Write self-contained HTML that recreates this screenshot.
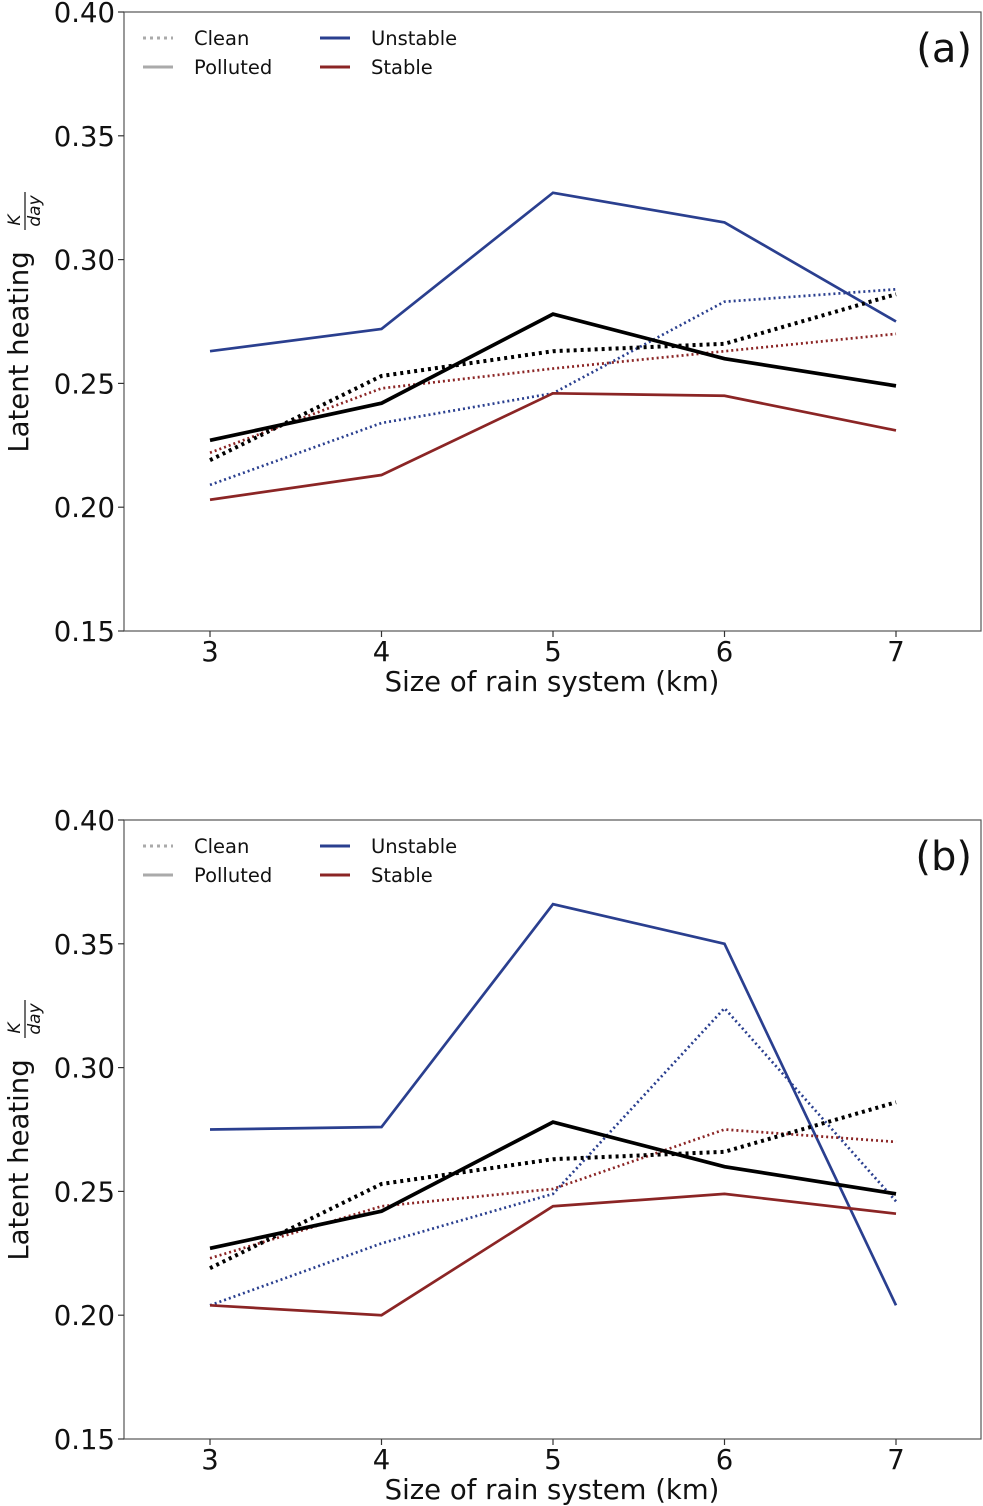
<!DOCTYPE html>
<html><head><meta charset="utf-8"><style>
body{margin:0;background:#fff;}
svg{display:block;font-family:"DejaVu Sans","Liberation Sans",sans-serif;}
</style></head><body>
<svg id="chart" width="983" height="1506"></svg>
<script>
const categories=[3,4,5,6,7];
const yTicks=[0.15,0.20,0.25,0.30,0.35,0.40];
const tickLabels=["0.15","0.20","0.25","0.30","0.35","0.40"];
const aUnstablePolluted=[0.263,0.272,0.327,0.315,0.275];
const aUnstableClean=[0.209,0.234,0.246,0.283,0.288];
const aAllPolluted=[0.227,0.242,0.278,0.260,0.249];
const aAllClean=[0.219,0.253,0.263,0.266,0.286];
const aStableClean=[0.222,0.248,0.256,0.263,0.270];
const aStablePolluted=[0.203,0.213,0.246,0.245,0.231];
const bUnstablePolluted=[0.275,0.276,0.366,0.350,0.204];
const bUnstableClean=[0.204,0.229,0.249,0.324,0.246];
const bAllPolluted=[0.227,0.242,0.278,0.260,0.249];
const bAllClean=[0.219,0.253,0.263,0.266,0.286];
const bStableClean=[0.223,0.244,0.251,0.275,0.270];
const bStablePolluted=[0.204,0.200,0.244,0.249,0.241];

const NS="http://www.w3.org/2000/svg";
const svg=document.getElementById('chart');
const BLUE="#2a3f8f",RED="#8b2525";
function mk(tag,attrs,parent){const e=document.createElementNS(NS,tag);for(const k in attrs)e.setAttribute(k,attrs[k]);(parent||svg).appendChild(e);return e;}
function panel(top,label,series,name){
  const g=mk('g',{});
  
  
  const L=124,R=981,T=top,B=top+619;
  const xs=v=>210+(v-3)*171.5;
  const ys=v=>B-(v-0.15)/0.25*619;
  const box=mk('rect',{x:L,y:T,width:R-L,height:B-T,fill:'none',stroke:'#555','stroke-width':1.2},g);
  
  
  yTicks.forEach((t,i)=>{
    const y=ys(t);
    mk('line',{x1:L-6,x2:L,y1:y,y2:y,stroke:'#333','stroke-width':1.2},g);
    const tx=mk('text',{x:L-9,y:y+10,'text-anchor':'end','font-size':27.5,fill:'#111'},g);
    tx.textContent=tickLabels[i];
    
    
  });
  categories.forEach(c=>{
    const x=xs(c);
    mk('line',{x1:x,x2:x,y1:B,y2:B+6,stroke:'#333','stroke-width':1.2},g);
    const tx=mk('text',{x:x,y:B+30,'text-anchor':'middle','font-size':27.5,fill:'#111'},g);
    tx.textContent=c;
    
    
  });
  const xt=mk('text',{x:552,y:B+60,'text-anchor':'middle','font-size':27.5,fill:'#111'},g);
  xt.textContent='Size of rain system (km)';
  
  
  const yt=mk('text',{transform:`translate(28,${T+340}) rotate(-90)`,'text-anchor':'middle','font-size':27.5,fill:'#111'},g);
  yt.textContent='Latent heating';
  
  
  mk('line',{x1:25,x2:25,y1:T+180,y2:T+218,stroke:'#111','stroke-width':1.2},g);
  const yk=mk('text',{transform:`translate(20,${T+208}) rotate(-90)`,'text-anchor':'middle','font-size':17,'font-style':'italic',fill:'#111'},g);
  yk.textContent='K';
  const yd=mk('text',{transform:`translate(40,${T+199}) rotate(-90)`,'text-anchor':'middle','font-size':17,'font-style':'italic',fill:'#111'},g);
  yd.textContent='day';
  series.forEach(s=>{
    const p=mk('polyline',{points:s.d.map((v,i)=>xs(categories[i])+','+ys(v)).join(' '),fill:'none',stroke:s.c,'stroke-width':s.w,'stroke-dasharray':s.dash||'none'},g);
    
    
  });
  const pl=mk('text',{x:972,y:T+50,'text-anchor':'end','font-size':40,fill:'#111'},g);
  pl.textContent=label;
  
  
  const lg=mk('g',{},g);
  
  
  const items=[[143,T+26,'#aaa','3,4','Clean'],[143,T+55,'#aaa','','Polluted'],[320,T+26,BLUE,'','Unstable'],[320,T+55,RED,'','Stable']];
  items.forEach(it=>{
    mk('line',{x1:it[0],x2:it[0]+30,y1:it[1],y2:it[1],stroke:it[2],'stroke-width':3,'stroke-dasharray':it[3]||'none'},lg);
    const t=mk('text',{x:it[0]+51,y:it[1]+7,'font-size':19.5,fill:'#111'},lg);
    t.textContent=it[4];
    
    
  });
}
panel(12,'(a)',[
 {d:aUnstablePolluted,c:BLUE,w:2.7,n:'unstable-polluted-line'},
 {d:aUnstableClean,c:BLUE,w:2.7,dash:'2,3',n:'unstable-clean-line'},
 {d:aStableClean,c:RED,w:2.7,dash:'2,3',n:'stable-clean-line'},
 {d:aStablePolluted,c:RED,w:2.7,n:'stable-polluted-line'},
 {d:aAllClean,c:'#000',w:4,dash:'3,4',n:'all-clean-line'},
 {d:aAllPolluted,c:'#000',w:3.7,n:'all-polluted-line'}
],'panel-a');
panel(820,'(b)',[
 {d:bUnstablePolluted,c:BLUE,w:2.7,n:'unstable-polluted-line'},
 {d:bUnstableClean,c:BLUE,w:2.7,dash:'2,3',n:'unstable-clean-line'},
 {d:bStableClean,c:RED,w:2.7,dash:'2,3',n:'stable-clean-line'},
 {d:bStablePolluted,c:RED,w:2.7,n:'stable-polluted-line'},
 {d:bAllClean,c:'#000',w:4,dash:'3,4',n:'all-clean-line'},
 {d:bAllPolluted,c:'#000',w:3.7,n:'all-polluted-line'}
],'panel-b');
</script>
</body></html>
